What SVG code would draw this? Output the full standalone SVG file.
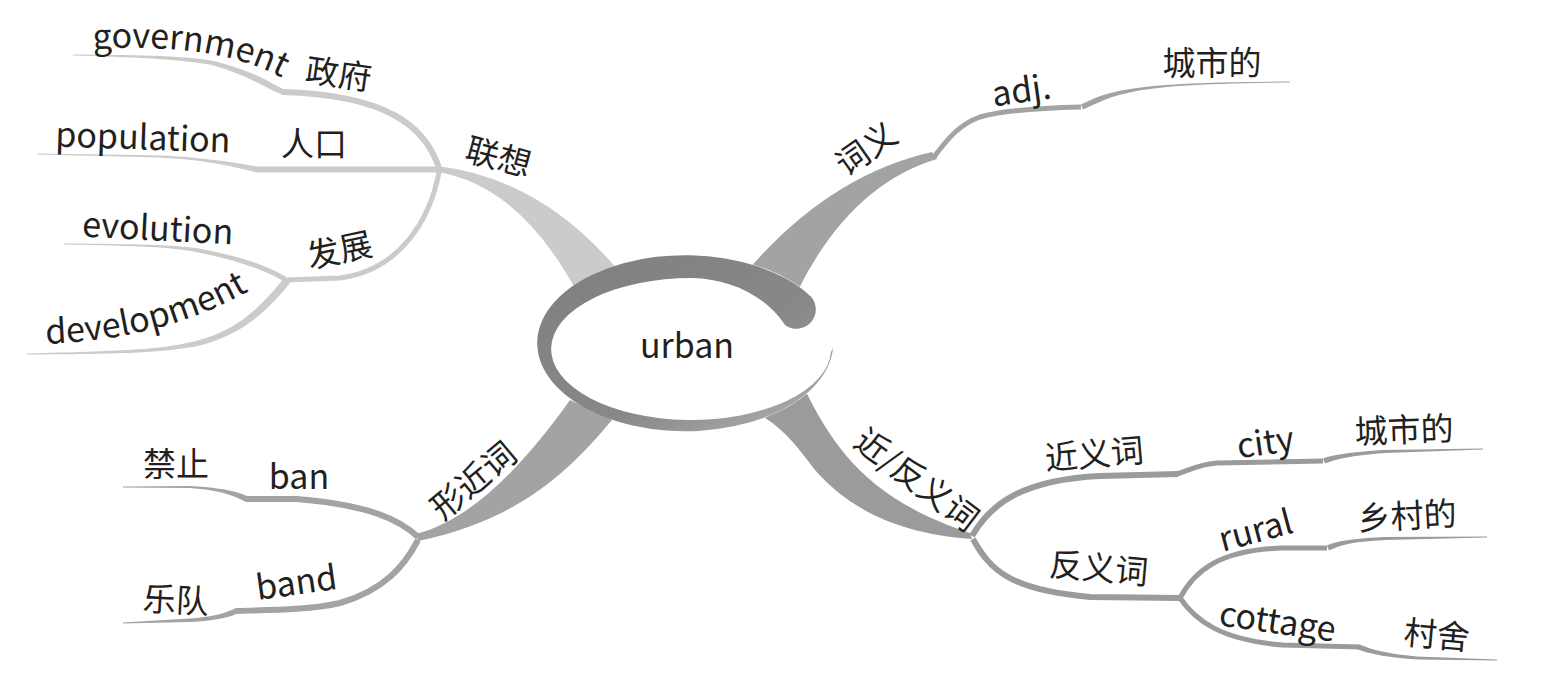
<svg xmlns="http://www.w3.org/2000/svg" width="1541" height="682" viewBox="0 0 1541 682">
<style>
text{font-family:"Noto Sans CJK SC","Noto Sans",sans-serif;fill:#231f20;}
.en{font-size:34px;}
.zh{font-size:33px;}
.c{text-anchor:middle;dominant-baseline:central;}
.s{fill:none;stroke-linecap:butt;stroke-linejoin:round;}
.lt{fill:#cbcbcb;} .lts{stroke:#cbcbcb;}
.tr{fill:#a3a3a3;} .trs{stroke:#a3a3a3;}
.br{fill:#9b9b9b;} .brs{stroke:#9b9b9b;}
.bl{fill:#a3a3a3;} .bls{stroke:#a3a3a3;}
</style>
<defs>
<linearGradient id="ringG" x1="0" y1="0" x2="1" y2="1">
<stop offset="0" stop-color="#7f7f7f"/>
<stop offset="0.6" stop-color="#888888"/>
<stop offset="1" stop-color="#b4b4b4"/>
</linearGradient>
<path id="govPath" d="M93,49 C165,45 235,50 290,82"/>
<path id="devPath" d="M46,344 C120,341 190,325 252,289"/>
</defs>
<g id="connectors">
<!-- top-left: 联想 -->
<path class="lt" d="M437,166 Q540,178 618,270 L578,294 Q520,185 437,172 Z"/>
<path class="s lts" stroke-width="6" d="M439,168 C425,125 385,95 283,92"/>
<path class="lt" d="M283,89 C265,80 255,72 214,61 C180,55 130,55 73,54.5 L73,55.5 C130,57 180,59 212,65 C250,76 265,88 283,95 Z"/>
<path class="s lts" stroke-width="6" d="M440,169.5 L257,169.5"/>
<path class="lt" d="M257,166.5 C220,160 190,156 140,155 L37,153.5 L37,154.5 L140,157 C190,158 220,163 257,172.5 Z"/>
<path class="s lts" stroke-width="5" d="M439,172 C430,220 400,270 340,278 L286,280"/>
<path class="lt" d="M286,276.5 C270,268 250,258 196,248 C170,245 140,244 64,243.5 L64,244.5 C140,246 170,247 196,252 C245,262 268,272 286,282.5 Z"/>
<path class="lt" d="M284,278 C265,302 240,330 196,341 C160,350 120,351 27,353.5 L27,354.5 C120,354 160,353 198,346 C245,334 270,308 290,283 Z"/>
<!-- top-right: 词义 -->
<path class="tr" d="M748,270 Q830,175 932,152 L937,159 Q850,185 797,292 Z"/>
<path class="s trs" stroke-width="5" d="M934,157 C948,138 960,124 980,117 C1000,111 1040,108 1081,107"/>
<path class="tr" d="M1081,104.5 C1095,98 1105,93 1130,89 C1160,84 1200,82 1290,81.5 L1290,82.5 C1200,83.5 1160,86 1132,92 C1110,96 1098,103 1083,109.5 Z"/>
<!-- bottom-right: 近/反义词 -->
<path class="br" d="M805,390 C835,450 870,500 970,533 L972,539 C900,534 850,510 815,470 C800,450 785,430 765,418 Z"/>
<path class="s brs" stroke-width="6" d="M972,536 C990,505 1020,480 1100,476 L1178,474"/>
<path class="s brs" stroke-width="5" d="M1177,474 C1190,470 1200,464 1217,463 L1323,461"/>
<path class="br" d="M1323,458.5 C1330,456 1340,453 1383,450 L1483,448.5 L1483,449.5 L1385,453 C1345,456 1335,460 1325,463.5 Z"/>
<path class="s brs" stroke-width="6" d="M973,539 C990,570 1010,590 1090,597 L1180,598"/>
<path class="s brs" stroke-width="5" d="M1180,598 C1195,570 1220,550 1283,548 L1327,548"/>
<path class="br" d="M1327,545.5 C1335,542 1345,539 1383,537 L1487,536.5 L1487,537.5 L1385,540 C1345,542 1337,547 1329,550.5 Z"/>
<path class="s brs" stroke-width="5" d="M1180,598 C1195,620 1220,640 1283,645 L1360,647"/>
<path class="br" d="M1360,644.5 C1368,648 1380,653 1417,656.5 L1497,659.5 L1497,660.5 L1417,659.5 C1380,657 1365,652 1358,649.5 Z"/>
<!-- bottom-left: 形近词 -->
<path class="bl" d="M416,534 C470,520 520,470 570,400 L612,420 C570,470 520,520 418,541 Z"/>
<path class="s bls" stroke-width="6" d="M418,537 C400,520 370,505 296,499 L246,499"/>
<path class="bl" d="M247,496 C238,492 225,488 190,486 L123,486.5 L123,487.5 L190,488 C220,490 235,496 246,502 Z"/>
<path class="s bls" stroke-width="6" d="M418,540 C405,565 385,590 340,603 C310,610 270,610 236,611"/>
<path class="bl" d="M236,608 C228,612 215,617 189,618.5 L123,622.5 L123,623.5 L190,622 C215,621 230,617 236,614 Z"/>
</g>
<g id="center">
<ellipse cx="686" cy="343" rx="148" ry="88" fill="#ffffff"/>
<path fill="url(#ringG)" d="M808,294 A148,88 0 1 0 833,348 L831,352 A140,71 0 1 1 692,278 C730,279 765,295 785,325 A19,19 0 0 0 808,294 Z"/>
<text class="en c" x="687" y="343">urban</text>
</g>
<g id="n-lianxiang"><text class="zh c" transform="translate(499,155) rotate(15)">联想</text></g>
<g id="n-zhengfu"><text class="zh c" transform="translate(339,72) rotate(8)">政府</text></g>
<g id="n-government"><text class="en"><textPath href="#govPath">government</textPath></text></g>
<g id="n-renkou"><text class="zh c" x="314" y="142">人口</text></g>
<g id="n-population"><text class="en c" transform="translate(143,135) rotate(2)">population</text></g>
<g id="n-fazhan"><text class="zh c" transform="translate(339,248) rotate(-12)">发展</text></g>
<g id="n-evolution"><text class="en c" transform="translate(158,226) rotate(3)">evolution</text></g>
<g id="n-development"><text class="en"><textPath href="#devPath">development</textPath></text></g>
<g id="n-ciyi"><text class="zh c" transform="translate(865,147) rotate(-35)">词义</text></g>
<g id="n-adj"><text class="en c" transform="translate(1021,88) rotate(-8)">adj.</text></g>
<g id="n-chengshide1"><text class="zh c" x="1212" y="61">城市的</text></g>
<g id="n-jinfanyici"><text class="zh c" transform="translate(918,478) rotate(37)">近/反义词</text></g>
<g id="n-jinyici"><text class="zh c" transform="translate(1094,452) rotate(-5)">近义词</text></g>
<g id="n-city"><text class="en c" transform="translate(1265,440) rotate(-8)">city</text></g>
<g id="n-chengshide2"><text class="zh c" transform="translate(1404,428) rotate(-2)">城市的</text></g>
<g id="n-fanyici"><text class="zh c" transform="translate(1099,566) rotate(5)">反义词</text></g>
<g id="n-rural"><text class="en c" transform="translate(1255,528) rotate(-15)">rural</text></g>
<g id="n-xiangcunde"><text class="zh c" transform="translate(1407,514) rotate(-3)">乡村的</text></g>
<g id="n-cottage"><text class="en c" transform="translate(1278,619) rotate(8)">cottage</text></g>
<g id="n-cunshe"><text class="zh c" transform="translate(1437,633) rotate(5)">村舍</text></g>
<g id="n-xingjinci"><text class="zh c" transform="translate(472,479) rotate(-40)">形近词</text></g>
<g id="n-jinzhi"><text class="zh c" x="176" y="462">禁止</text></g>
<g id="n-ban"><text class="en c" x="299" y="474">ban</text></g>
<g id="n-yuedui"><text class="zh c" transform="translate(176,598) rotate(3)">乐队</text></g>
<g id="n-band"><text class="en c" transform="translate(296,580) rotate(-8)">band</text></g>
</svg>
